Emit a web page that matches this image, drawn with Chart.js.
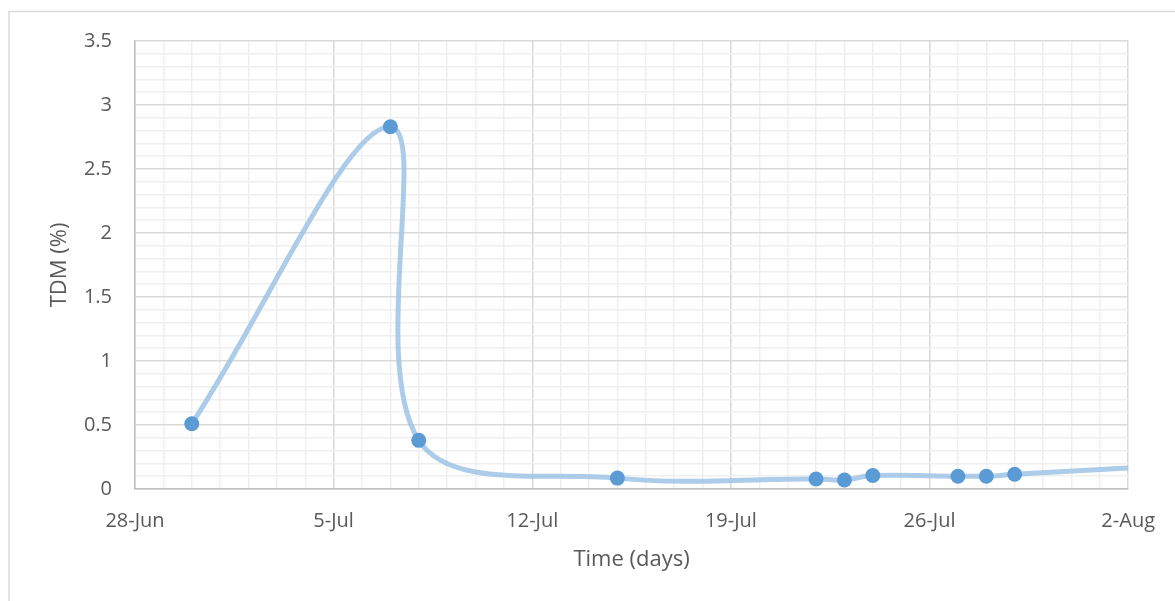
<!DOCTYPE html>
<html>
<head>
<meta charset="utf-8">
<title>TDM (%) over time</title>
<script src="https://cdn.jsdelivr.net/npm/chart.js@4.4.1/dist/chart.umd.min.js"></script>
<style>
  html, body { margin: 0; padding: 0; background: #ffffff; }
  #wrap { position: relative; width: 1175px; height: 601px; }
</style>
</head>
<body>
<div id="wrap"><canvas id="chart" width="1175" height="601"></canvas></div>
<script>
// Sampling dates (month-day) and measured TDM values in percent.
// The last sample lies past the axis end, so only the line toward it shows.
const sampleDates = ['06-30', '07-07', '07-08', '07-15', '07-22', '07-23', '07-24', '07-27', '07-28', '07-29', '08-05'];
const tdmValues   = [0.51, 2.83, 0.38, 0.085, 0.078, 0.07, 0.105, 0.10, 0.10, 0.115, 0.20];

// Axis range and labelled ticks.
const axisStart   = '06-28';
const axisEnd     = '08-02';
const xTickLabels = ['28-Jun', '5-Jul', '12-Jul', '19-Jul', '26-Jul', '2-Aug'];
const yMax = 3.5;

// Day offset from the axis start.
function dayOf(md) {
  const [m, d] = md.split('-').map(Number);
  return Date.UTC(2000, m - 1, d) / 86400000;
}
const day0 = dayOf(axisStart);
const dayEnd = dayOf(axisEnd) - day0;

const points = sampleDates.map((md, i) => ({ x: dayOf(md) - day0, y: tdmValues[i] }));

const FONT = '"Open Sans", "Liberation Sans", sans-serif';
const TEXT = '#595959';

// Outer frame of the chart object.
const framePlugin = {
  id: 'frame',
  beforeDraw(chart) {
    const ctx = chart.ctx;
    ctx.save();
    ctx.fillStyle = '#ffffff';
    ctx.fillRect(0, 0, chart.width, chart.height);
    ctx.strokeStyle = '#d9d9d9';
    ctx.lineWidth = 1.5;
    ctx.strokeRect(9, 11.5, chart.width + 20, chart.height + 20);
    ctx.restore();
  }
};

new Chart(document.getElementById('chart'), {
  type: 'line',
  data: {
    datasets: [{
      label: 'TDM (%)',
      data: points,
      borderColor: 'rgba(157, 195, 230, 0.85)',
      borderWidth: 5,
      tension: 0.36,
      capBezierPoints: false,
      pointRadius: 7.5,
      pointHoverRadius: 7.5,
      pointBackgroundColor: '#5b9bd5',
      pointBorderColor: '#5b9bd5',
      pointBorderWidth: 0,
      fill: false
    }]
  },
  options: {
    responsive: false,
    animation: false,
    events: [],
    layout: { padding: { top: 41, right: 45, left: 0, bottom: 0 } },
    plugins: {
      legend: { display: false },
      tooltip: { enabled: false }
    },
    scales: {
      x: {
        type: 'linear',
        min: 0,
        max: dayEnd,
        afterBuildTicks(scale) {
          const t = [];
          for (let v = 0; v <= dayEnd; v++) t.push({ value: v });
          scale.ticks = t;
        },
        afterFit(scale) { scale.height = 112; },
        ticks: {
          autoSkip: false,
          maxRotation: 0,
          padding: 20,
          color: TEXT,
          font: { family: FONT, size: 20 },
          callback: (v) => (v % 7 === 0 ? xTickLabels[v / 7] : '')
        },
        grid: {
          drawTicks: false,
          color: (c) => (c.tick && c.tick.value % 7 === 0 ? '#d9d9d9' : '#efefef'),
          lineWidth: 1.5
        },
        border: { display: true, color: '#bfbfbf', width: 1.5 },
        title: {
          display: true,
          text: 'Time (days)',
          color: TEXT,
          font: { family: FONT, size: 22 },
          padding: { top: 0, bottom: 28 }
        }
      },
      y: {
        type: 'linear',
        min: 0,
        max: yMax,
        afterBuildTicks(scale) {
          const t = [];
          for (let k = 0; k <= Math.round(yMax * 10); k++) t.push({ value: k / 10 });
          scale.ticks = t;
        },
        afterFit(scale) { scale.width = 135; },
        ticks: {
          autoSkip: false,
          padding: 23,
          color: TEXT,
          font: { family: FONT, size: 20 },
          callback: (v) => {
            const k = Math.round(v * 10);
            return k % 5 === 0 ? String(k / 10) : '';
          }
        },
        grid: {
          drawTicks: false,
          color: (c) => (c.tick && Math.round(c.tick.value * 10) % 5 === 0 ? '#d9d9d9' : '#efefef'),
          lineWidth: 1.5
        },
        border: { display: true, color: '#bfbfbf', width: 1.5 },
        title: {
          display: true,
          text: 'TDM (%)',
          color: TEXT,
          font: { family: FONT, size: 22 },
          padding: { top: 47, bottom: 0 }
        }
      }
    }
  },
  plugins: [framePlugin]
});
</script>
</body>
</html>
